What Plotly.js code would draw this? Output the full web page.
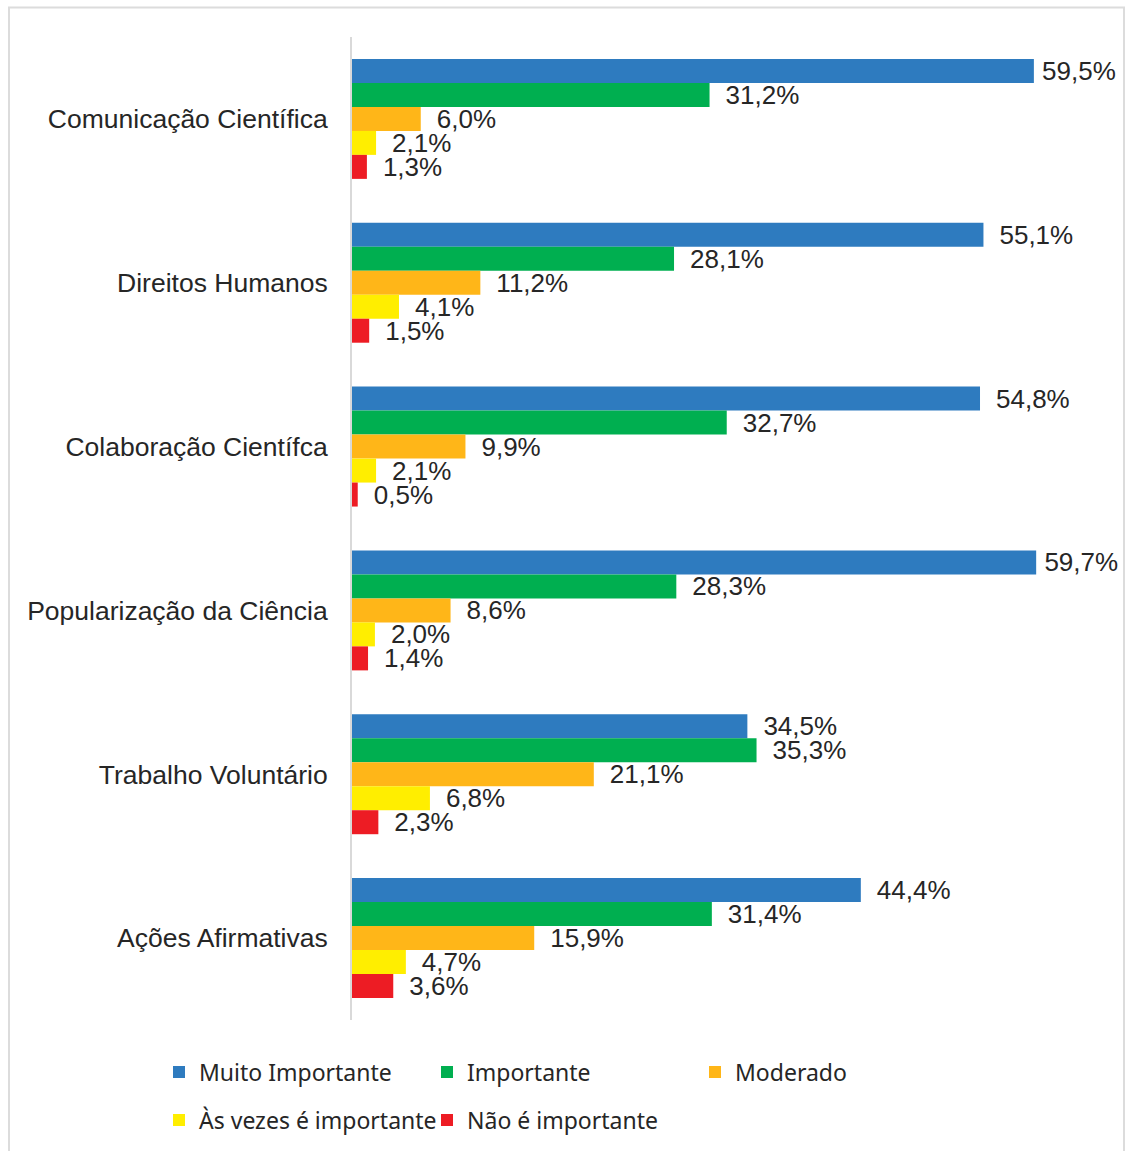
<!DOCTYPE html>
<html>
<head>
<meta charset="utf-8">
<script src="https://cdn.plot.ly/plotly-3.0.1.min.js"></script>
<style>html,body{margin:0;padding:0;background:#fff;}#chart{width:1126px;height:1151px;}</style>
</head>
<body>
<div id="chart"></div>
<script>
const categories = ["Comunicação Científica","Direitos Humanos","Colaboração Científca","Popularização da Ciência","Trabalho Voluntário","Ações Afirmativas"];
const seriesNames = ["Muito Importante","Importante","Moderado","Às vezes é importante","Não é importante"];
const muitoImportante = [59.5,55.1,54.8,59.7,34.5,44.4];
const importante = [31.2,28.1,32.7,28.3,35.3,31.4];
const moderado = [6.0,11.2,9.9,8.6,21.1,15.9];
const asVezes = [2.1,4.1,2.1,2.0,6.8,4.7];
const naoImportante = [1.3,1.5,0.5,1.4,2.3,3.6];
const seriesValues = [muitoImportante, importante, moderado, asVezes, naoImportante];
const colors = ["#2E7BBF","#00AF50","#FFB618","#FFEE00","#ED1C24"];
const legendIds = ["legend","legend","legend","legend2","legend2"];

const traces = seriesValues.map((vals,i)=>({
  type:'bar', orientation:'h', name:seriesNames[i],
  x:vals, y:categories,
  marker:{color:colors[i]},
  texttemplate: vals.map(v => (v > 57 ? '\u2009' : '\u2002') + '%{x:.1f}%'),
  textposition:'outside', cliponaxis:false,
  constraintext:'none', textangle:0,
  textfont:{family:'Liberation Sans, Arial, sans-serif', size:26, color:'#262626'},
  legend:legendIds[i], hoverinfo:'skip'
}));

const L=352, R=26, T=37, B=131, W=1126, H=1151;
const pw=W-L-R, ph=H-T-B;
const px=v=>(v-L)/pw, py=v=>(H-B-v)/ph;

const legendFont = {family:'Noto Sans, Open Sans, sans-serif', size:23, color:'#262626'};
const layout = {
  width:W, height:H,
  margin:{l:L,r:R,t:T,b:B,pad:0,autoexpand:false},
  paper_bgcolor:'#fff', plot_bgcolor:'#fff',
  separators:',.',
  barmode:'group', bargap:0.268, bargroupgap:0,
  font:{family:'Liberation Sans, Arial, sans-serif', color:'#262626'},
  xaxis:{range:[0,65.27], visible:false, fixedrange:true},
  yaxis:{autorange:'reversed', type:'category', showline:true, linecolor:'#d9d9d9', linewidth:2,
    ticks:'', showgrid:false, zeroline:false, ticklabelstandoff:17,
    tickfont:{family:'Liberation Sans, Arial, sans-serif', size:26.5, color:'#262626'}},
  showlegend:true,
  legend:{orientation:'h', x:px(159), xanchor:'left', y:py(1072), yanchor:'middle',
    entrywidth:223, entrywidthmode:'pixels', itemwidth:30,
    font:legendFont, bgcolor:'rgba(0,0,0,0)'},
  legend2:{orientation:'h', x:px(159), xanchor:'left', y:py(1120), yanchor:'middle',
    entrywidth:223, entrywidthmode:'pixels', itemwidth:30,
    font:legendFont, bgcolor:'rgba(0,0,0,0)'},
  shapes:[{type:'rect', xref:'paper', yref:'paper', x0:px(9), x1:px(1124), y0:py(7.5), y1:py(1165),
    line:{color:'#dcdcdc', width:2}, fillcolor:'rgba(0,0,0,0)', layer:'below'}]
};
Plotly.newPlot('chart', traces, layout, {displayModeBar:false, staticPlot:true});
</script>
</body>
</html>
